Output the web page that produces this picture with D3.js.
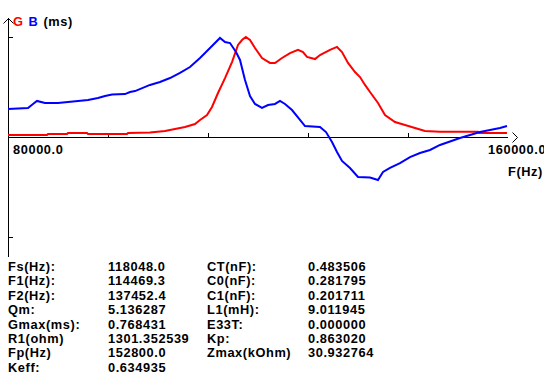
<!DOCTYPE html>
<html><head><meta charset="utf-8">
<script src="https://cdn.jsdelivr.net/npm/d3@7"></script>
<style>
html,body{margin:0;padding:0;background:#fff;}
svg text{font-family:"Liberation Sans",Arial,sans-serif;font-weight:bold;font-size:12.8px;letter-spacing:0.6px;fill:#000;}
</style></head>
<body><svg id="c" width="544" height="391"></svg>
<script>
const freqG = [80000,86240,86400,89440,89600,92640,92800,99040,99200,102720,105120,106720,108320,109920,110720,111840,112640,113600,114720,115840,116800,117440,118048,118720,119520,120640,121920,122720,123840,125120,126400,127200,127840,129120,129920,131520,132640,133440,134400,135520,136320,137120,137920,139200,140320,141920,143520,145120,146720,149120,155200,155360,158240,158400,159840];
const valG = [0.015,0.015,0.023,0.023,0.031,0.031,0.023,0.023,0.031,0.035,0.046,0.061,0.077,0.100,0.131,0.169,0.231,0.338,0.453,0.576,0.707,0.745,0.768,0.745,0.684,0.607,0.569,0.569,0.607,0.645,0.669,0.653,0.615,0.599,0.630,0.669,0.692,0.653,0.569,0.499,0.461,0.400,0.346,0.261,0.169,0.115,0.092,0.069,0.046,0.040,0.040,0.031,0.031,0.031,0.031];
const freqB = [80000,83200,84000,84640,85920,88000,89600,91200,92800,94400,95520,96640,98720,99520,100320,102720,104320,105920,107520,109120,110720,112320,113920,114720,115520,116480,117120,117920,118720,119520,120640,121600,122720,123520,124320,125440,126720,127520,129920,130880,131840,132640,133440,134720,136000,137920,139200,140000,141120,142720,144320,145920,147520,149120,152320,155520,158720,159840];
const valB = [0.215,0.223,0.254,0.277,0.261,0.261,0.269,0.277,0.284,0.300,0.315,0.327,0.330,0.346,0.353,0.400,0.423,0.453,0.492,0.538,0.607,0.684,0.761,0.730,0.722,0.653,0.592,0.438,0.315,0.254,0.223,0.246,0.254,0.277,0.254,0.207,0.131,0.084,0.077,0.038,-0.038,-0.115,-0.184,-0.238,-0.307,-0.311,-0.330,-0.269,-0.238,-0.200,-0.154,-0.123,-0.100,-0.061,-0.008,0.038,0.069,0.085];
const xTicks = [96000,112000,128000,144000];
const xTickLabels = ["80000.0","160000.0"];
const yTicks = [0.768431,-0.768431];
const leftLabels = ["Fs(Hz):","F1(Hz):","F2(Hz):","Qm:","Gmax(ms):","R1(ohm)","Fp(Hz)","Keff:"];
const leftValues = ["118048.0","114469.3","137452.4","5.136287","0.768431","1301.352539","152800.0","0.634935"];
const rightLabels = ["CT(nF):","C0(nF):","C1(nF):","L1(mH):","E33T:","Kp:","Zmax(kOhm)"];
const rightValues = ["0.483506","0.281795","0.201711","9.011945","0.000000","0.863020","30.932764"];

const svg = d3.select("#c");
const x = d3.scaleLinear().domain([80000,160000]).range([8,508]);
const y = d3.scaleLinear().domain([-0.768431,0.768431]).range([237,37]);
const y0 = y(0);

const ax = svg.append("g").attr("stroke","#000").attr("stroke-width",1).attr("fill","none").attr("shape-rendering","crispEdges");
ax.append("line").attr("x1",x(80000)).attr("x2",x(160000)).attr("y1",y0+0.5).attr("y2",y0+0.5);
ax.append("path").attr("shape-rendering","auto").attr("d",`M${x(160000)+4.5},${y0-4.5}L${x(160000)+9.5},${y0+0.5}L${x(160000)+4.5},${y0+5.5}`);
xTicks.forEach(t=>ax.append("line").attr("x1",Math.round(x(t))+0.5).attr("x2",Math.round(x(t))+0.5).attr("y1",y0-4).attr("y2",y0));
ax.append("line").attr("x1",x(80000)+0.5).attr("x2",x(80000)+0.5).attr("y1",18).attr("y2",257);
ax.append("path").attr("shape-rendering","auto").attr("d",`M${x(80000)-4.5},23.5L${x(80000)+0.5},18.5L${x(80000)+5.5},23.5`);
yTicks.forEach(t=>ax.append("line").attr("x1",x(80000)).attr("x2",x(80000)+5).attr("y1",Math.round(y(t))+0.5).attr("y2",Math.round(y(t))+0.5));

const line = d3.line().x(d=>x(d[0])).y(d=>y(d[1]));
svg.append("path").datum(freqG.map((f,i)=>[f,valG[i]])).attr("d",line).attr("fill","none").attr("stroke","#ff0000").attr("stroke-width",2);
svg.append("path").datum(freqB.map((f,i)=>[f,valB[i]])).attr("d",line).attr("fill","none").attr("stroke","#0000ff").attr("stroke-width",2);

const h = svg.append("text").attr("x",13).attr("y",26);
h.append("tspan").style("fill","#ff0000").text("G");
h.append("tspan").attr("dx",5).style("fill","#0000ff").text("B");
h.append("tspan").attr("dx",5).text("(ms)");

svg.append("text").attr("x",13).attr("y",154).text(xTickLabels[0]);
svg.append("text").attr("x",488).attr("y",154).text(xTickLabels[1]);
svg.append("text").attr("x",508).attr("y",176).text("F(Hz)");

const rowY = i => 271 + i*14.4;
leftLabels.forEach((s,i)=>svg.append("text").attr("x",8).attr("y",rowY(i)).text(s));
leftValues.forEach((s,i)=>svg.append("text").attr("x",108).attr("y",rowY(i)).text(s));
rightLabels.forEach((s,i)=>svg.append("text").attr("x",207).attr("y",rowY(i)).text(s));
rightValues.forEach((s,i)=>svg.append("text").attr("x",308).attr("y",rowY(i)).text(s));
</script></body></html>
